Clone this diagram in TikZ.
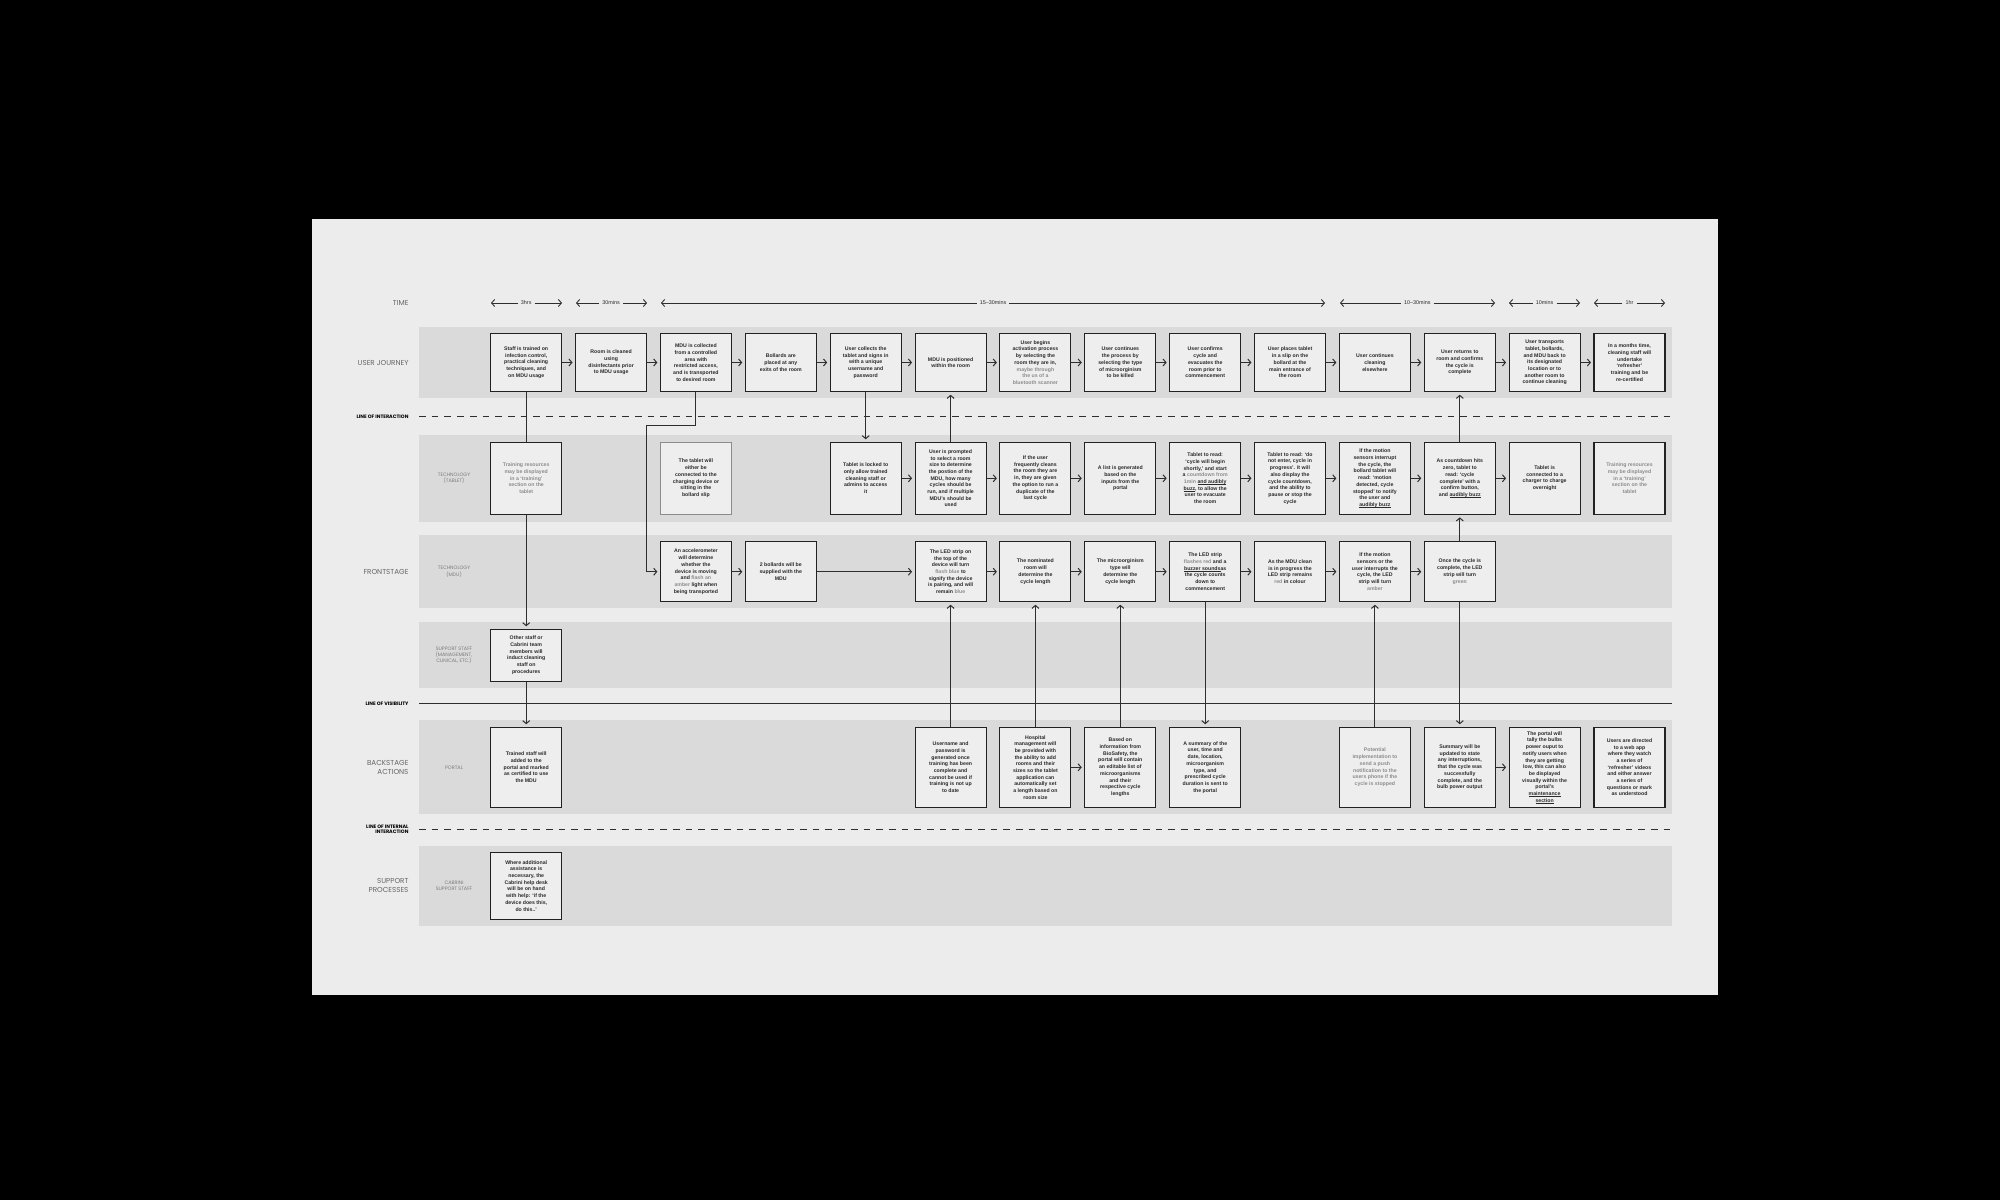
\documentclass[tikz,border=0pt]{standalone}
\usepackage{fontspec}
\setmainfont{Liberation Sans}
\newfontfamily\lanefont{Poppins}
\usetikzlibrary{arrows.meta}
\definecolor{bgc}{HTML}{000000}
\definecolor{paper}{HTML}{ECECEC}
\definecolor{band}{HTML}{DADADA}
\definecolor{boxfill}{HTML}{EEEEEE}
\definecolor{boxline}{HTML}{222222}
\definecolor{txt}{HTML}{2A2A2A}
\definecolor{soft}{HTML}{8C8C8C}
\definecolor{lanetxt}{HTML}{666666}
\definecolor{sublane}{HTML}{7C7C7C}
\definecolor{lincol}{HTML}{2E2E2E}
\newcommand{\gr}[1]{\textcolor{soft}{#1}}
\newcommand{\uln}[1]{\setbox0\hbox{#1}\rlap{\rule[-0.9pt]{\wd0}{0.3pt}}\box0}
\tikzset{
  box/.style={draw=boxline, fill=boxfill, line width=1.1pt, minimum width=71pt, inner sep=0pt, align=center, text=txt, font=\fontsize{5.2}{6.7}\selectfont\bfseries},
  ujbox/.style={box, minimum height=58.4pt},
  tbbox/.style={box, minimum height=72pt},
  mdbox/.style={box, minimum height=60pt},
  ssbox/.style={box, minimum height=51.7pt},
  bkbox/.style={box, minimum height=80pt},
  spbox/.style={box, minimum height=66.7pt},
  conn/.style={draw=lincol, line width=1pt, -{Straight Barb[length=3pt,width=7pt,line width=1pt]}, shorten >=2.5pt},
  plain/.style={draw=lincol, line width=1pt},
  tarrow/.style={draw=lincol, line width=0.9pt, -{Straight Barb[length=3pt,width=7pt,line width=0.9pt]}},
  tlabel/.style={inner sep=3pt, font=\fontsize{5.4}{6.5}\selectfont, text=txt},
  lane/.style={anchor=east, align=right, text=lanetxt, font=\lanefont\fontsize{7.2}{9}\selectfont},
  sublab/.style={align=center, text=sublane, font=\lanefont\fontsize{4.9}{6.3}\selectfont},
  linelab/.style={anchor=east, align=right, text=black, font=\lanefont\bfseries\fontsize{4.9}{5.8}\selectfont},
  divdash/.style={draw=lincol, line width=1.3pt, dash pattern=on 6.7pt off 6pt},
  divsolid/.style={draw=lincol, line width=1.2pt}
}
\begin{document}
\begin{tikzpicture}[x=1pt,y=-1pt]
\useasboundingbox (0,0) rectangle (2000,1200);
\fill[bgc] (0,0) rectangle (2000,1200);
\fill[paper] (312,219) rectangle (1718,995);
% bands
\fill[band] (419,326.7) rectangle (1672,398.3);
\fill[band] (419,435) rectangle (1672,521.7);
\fill[band] (419,535) rectangle (1672,608.3);
\fill[band] (419,621.7) rectangle (1672,688.3);
\fill[band] (419,720) rectangle (1672,814);
\fill[band] (419,846) rectangle (1672,926);
% divider lines
\draw[divdash] (419,416.7) -- (1672,416.7);
\draw[divsolid] (419,703.3) -- (1672,703.3);
\draw[divdash] (419,829.3) -- (1672,829.3);
% lane labels
\node[lane] (lTime) at (412,303) {TIME};
\node[lane] (lUJ) at (412,362.5) {USER JOURNEY};
\node[linelab] (lLOI) at (412,416.7) {LINE OF INTERACTION};
\node[lane] (lFront) at (412,571.7) {FRONTSTAGE};
\node[linelab] (lLOV) at (412,703.3) {LINE OF VISIBILITY};
\node[lane] (lBack) at (412,767.3) {BACKSTAGE\\ACTIONS};
\node[linelab] (lLOII) at (412,829.3) {LINE OF INTERNAL\\INTERACTION};
\node[lane] (lSupp) at (412,885.7) {SUPPORT\\PROCESSES};
\node[sublab] (sTab) at (454,478.3) {TECHNOLOGY\\(TABLET)};
\node[sublab] (sMdu) at (454,571.7) {TECHNOLOGY\\(MDU)};
\node[sublab] (sStaff) at (454,655.2) {SUPPORT STAFF\\(MANAGEMENT,\\CLINICAL, ETC.)};
\node[sublab] (sPortal) at (454,767.3) {PORTAL};
\node[sublab] (sCab) at (454,885.7) {CABRINI\\SUPPORT STAFF};
% time row
\coordinate (ta1) at (491,303); \coordinate (tb1) at (562,303);
\node[tlabel] (tl1) at (526.2,303) {3hrs};
\draw[tarrow] (tl1.west) -- (ta1); \draw[tarrow] (tl1.east) -- (tb1);
\coordinate (ta2) at (576,303); \coordinate (tb2) at (647,303);
\node[tlabel] (tl2) at (611.1,303) {30mins};
\draw[tarrow] (tl2.west) -- (ta2); \draw[tarrow] (tl2.east) -- (tb2);
\coordinate (ta3) at (661,303); \coordinate (tb3) at (1325,303);
\node[tlabel] (tl3) at (993,303) {15--30mins};
\draw[tarrow] (tl3.west) -- (ta3); \draw[tarrow] (tl3.east) -- (tb3);
\coordinate (ta4) at (1340,303); \coordinate (tb4) at (1495,303);
\node[tlabel] (tl4) at (1417.3,303) {10--30mins};
\draw[tarrow] (tl4.west) -- (ta4); \draw[tarrow] (tl4.east) -- (tb4);
\coordinate (ta5) at (1509,303); \coordinate (tb5) at (1580,303);
\node[tlabel] (tl5) at (1544.6,303) {10mins};
\draw[tarrow] (tl5.west) -- (ta5); \draw[tarrow] (tl5.east) -- (tb5);
\coordinate (ta6) at (1594,303); \coordinate (tb6) at (1665,303);
\node[tlabel] (tl6) at (1629.5,303) {1hr};
\draw[tarrow] (tl6.west) -- (ta6); \draw[tarrow] (tl6.east) -- (tb6);
% user journey
\node[ujbox] (uj1) at (526.2,362.5) {Staff is trained on\\infection control,\\practical cleaning\\techniques, and\\on MDU usage};
\node[ujbox] (uj2) at (611.1,362.5) {Room is cleaned\\using\\disinfectants prior\\to MDU usage};
\node[ujbox] (uj3) at (695.9,362.5) {MDU is collected\\from a controlled\\area with\\restricted access,\\and is transported\\to desired room};
\node[ujbox] (uj4) at (780.8,362.5) {Bollards are\\placed at any\\exits of the room};
\node[ujbox] (uj5) at (865.7,362.5) {User collects the\\tablet and signs in\\with a unique\\username and\\password};
\node[ujbox] (uj6) at (950.6,362.5) {MDU is positioned\\within the room};
\node[ujbox] (uj7) at (1035.4,362.5) {User begins\\activation process\\by selecting the\\room they are in,\\\gr{maybe through}\\\gr{the us of a}\\\gr{bluetooth scanner}};
\node[ujbox] (uj8) at (1120.3,362.5) {User continues\\the process by\\selecting the type\\of microorginism\\to be killed};
\node[ujbox] (uj9) at (1205.2,362.5) {User confirms\\cycle and\\evacuates the\\room prior to\\commencement};
\node[ujbox] (uj10) at (1290.0,362.5) {User places tablet\\in a slip on the\\bollard at the\\main entrance of\\the room};
\node[ujbox] (uj11) at (1374.9,362.5) {User continues\\cleaning\\elsewhere};
\node[ujbox] (uj12) at (1459.8,362.5) {User returns to\\room and confirms\\the cycle is\\complete};
\node[ujbox] (uj13) at (1544.6,362.5) {User transports\\tablet, bollards,\\and MDU back to\\its designated\\location or to\\another room to\\continue cleaning};
\node[ujbox] (uj14) at (1629.5,362.5) {In a months time,\\cleaning staff will\\undertake\\`refresher'\\training and be\\re-certified};
% tablet
\node[tbbox, text=soft] (t1) at (526.2,478.3) {Training resources\\may be displayed\\in a `training'\\section on the\\tablet};
\node[tbbox, draw=soft] (t3) at (695.9,478.3) {The tablet will\\either be\\connected to the\\charging device or\\sitting in the\\bollard slip};
\node[tbbox] (t5) at (865.7,478.3) {Tablet is locked to\\only allow trained\\cleaning staff or\\admins to access\\it};
\node[tbbox] (t6) at (950.6,478.3) {User is prompted\\to select a room\\size to determine\\the postion of the\\MDU, how many\\cycles should be\\run, and if multiple\\MDU's should be\\used};
\node[tbbox] (t7) at (1035.4,478.3) {If the user\\frequently cleans\\the room they are\\in, they are given\\the option to run a\\duplicate of the\\last cycle};
\node[tbbox] (t8) at (1120.3,478.3) {A list is generated\\based on the\\inputs from the\\portal};
\node[tbbox] (t9) at (1205.2,478.3) {Tablet to read:\\`cycle will begin\\shortly,' and start\\a \gr{countdown from}\\\gr{1min} \uln{and audibly}\\\uln{buzz}, to allow the\\user to evacuate\\the room};
\node[tbbox] (t10) at (1290.0,478.3) {Tablet to read: `do\\not enter, cycle in\\progress'. It will\\also display the\\cycle countdown,\\and the ability to\\pause or stop the\\cycle};
\node[tbbox] (t11) at (1374.9,478.3) {If the motion\\sensors interrupt\\the cycle, the\\bollard tablet will\\read: `motion\\detected, cycle\\stopped' to notify\\the user and\\\uln{audibly buzz}};
\node[tbbox] (t12) at (1459.8,478.3) {As countdown hits\\zero, tablet to\\read: `cycle\\complete' with a\\confirm button,\\and \uln{audibly buzz}};
\node[tbbox] (t13) at (1544.6,478.3) {Tablet is\\connected to a\\charger to charge\\overnight};
\node[tbbox, text=soft] (t14) at (1629.5,478.3) {Training resources\\may be displayed\\in a `training'\\section on the\\tablet};
% MDU
\node[mdbox] (m3) at (695.9,571.7) {An accelerometer\\will determine\\whether the\\device is moving\\and \gr{flash an}\\\gr{amber} light when\\being transported};
\node[mdbox] (m4) at (780.8,571.7) {2 bollards will be\\supplied with the\\MDU};
\node[mdbox] (m6) at (950.6,571.7) {The LED strip on\\the top of the\\device will turn\\\gr{flash blue} to\\signify the device\\is pairing, and will\\remain \gr{blue}};
\node[mdbox] (m7) at (1035.4,571.7) {The nominated\\room will\\determine the\\cycle length};
\node[mdbox] (m8) at (1120.3,571.7) {The microorginism\\type will\\determine the\\cycle length};
\node[mdbox] (m9) at (1205.2,571.7) {The LED strip\\\gr{flashes red} and a\\\uln{buzzer sounds} as\\the cycle counts\\down to\\commencement};
\node[mdbox] (m10) at (1290.0,571.7) {As the MDU clean\\is in progress the\\LED strip remains\\\gr{red} in colour};
\node[mdbox] (m11) at (1374.9,571.7) {If the motion\\sensors or the\\user interrupts the\\cycle, the LED\\strip will turn\\\gr{amber}};
\node[mdbox] (m12) at (1459.8,571.7) {Once the cycle is\\complete, the LED\\strip will turn\\\gr{green}};
% support staff
\node[ssbox] (s1) at (526.2,655.2) {Other staff or\\Cabrini team\\members will\\induct cleaning\\staff on\\procedures};
% backstage
\node[bkbox] (b1) at (526.2,767.3) {Trained staff will\\added to the\\portal and marked\\as certified to use\\the MDU};
\node[bkbox] (b6) at (950.6,767.3) {Username and\\password is\\generated once\\training has been\\complete and\\cannot be used if\\training is not up\\to date};
\node[bkbox] (b7) at (1035.4,767.3) {Hospital\\management will\\be provided with\\the ability to add\\rooms and their\\sizes so the tablet\\application can\\automatically set\\a length based on\\room size};
\node[bkbox] (b8) at (1120.3,767.3) {Based on\\information from\\BioSafety, the\\portal will contain\\an editable list of\\microorganisms\\and their\\respective cycle\\lengths};
\node[bkbox] (b9) at (1205.2,767.3) {A summary of the\\user, time and\\date, location,\\microorganism\\type, and\\prescribed cycle\\duration is sent to\\the portal};
\node[bkbox, text=soft] (b11) at (1374.9,767.3) {Potential\\implementation to\\send a push\\notification to the\\users phone if the\\cycle is stopped};
\node[bkbox] (b12) at (1459.8,767.3) {Summary will be\\updated to state\\any interruptions,\\that the cycle was\\successfully\\complete, and the\\bulb power output};
\node[bkbox] (b13) at (1544.6,767.3) {The portal will\\tally the bulbs\\power ouput to\\notify users when\\they are getting\\low, this can also\\be displayed\\visually within the\\portal's\\\uln{maintenance}\\\uln{section}};
\node[bkbox] (b14) at (1629.5,767.3) {Users are directed\\to a web app\\where they watch\\a series of\\`refresher' videos\\and either answer\\a series of\\questions or mark\\as understood};
% support processes
\node[spbox] (p1) at (526.2,885.7) {Where additional\\assistance is\\necessary, the\\Cabrini help desk\\will be on hand\\with help: `if the\\device does this,\\do this..'};
% horizontal connectors
\foreach \a/\b in {1/2,2/3,3/4,4/5,5/6,6/7,7/8,8/9,9/10,10/11,11/12,12/13,13/14}
  \draw[conn] (uj\a.east) -- (uj\b.west);
\foreach \a/\b in {5/6,6/7,7/8,8/9,9/10,10/11,11/12,12/13}
  \draw[conn] (t\a.east) -- (t\b.west);
\foreach \a/\b in {3/4,4/6,6/7,7/8,8/9,9/10,10/11,11/12}
  \draw[conn] (m\a.east) -- (m\b.west);
\draw[conn] (b7.east) -- (b8.west);
\draw[conn] (b12.east) -- (b13.west);
% vertical connectors
\draw[plain] (uj1.south) -- (t1.north);
\draw[conn] (t1.south) -- (s1.north);
\draw[conn] (s1.south) -- (b1.north);
\coordinate (c3a) at (646.7,425);
\draw[conn] (uj3.south) |- (c3a) |- (m3.west);
\draw[conn] (uj5.south) -- (t5.north);
\draw[conn] (t6.north) -- (uj6.south);
\draw[conn] (b6.north) -- (m6.south);
\draw[conn] (b7.north) -- (m7.south);
\draw[conn] (b8.north) -- (m8.south);
\draw[conn] (m9.south) -- (b9.north);
\draw[conn] (b11.north) -- (m11.south);
\draw[conn] (m12.north) -- (t12.south);
\draw[conn] (t12.north) -- (uj12.south);
\draw[conn] (m12.south) -- (b12.north);
\end{tikzpicture}
\end{document}
